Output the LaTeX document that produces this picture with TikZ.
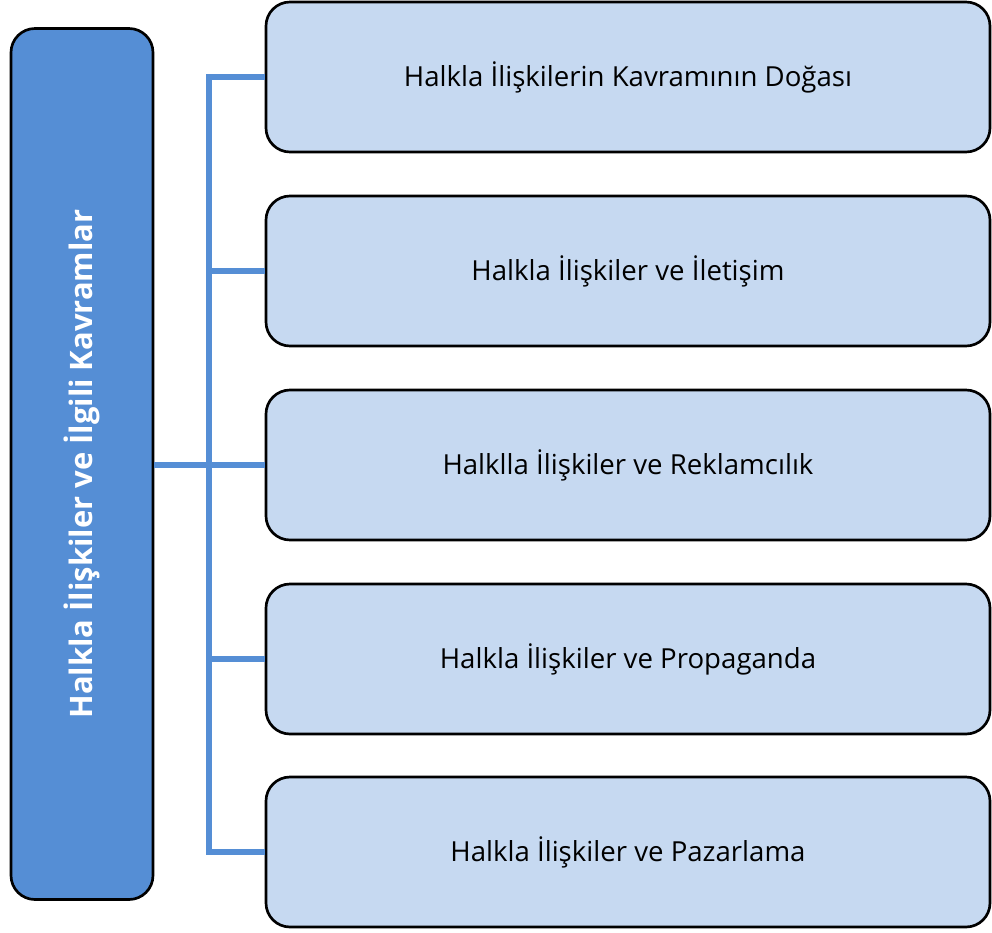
\documentclass[tikz,border=0pt]{standalone}
\usepackage{fontspec}
\setmainfont{Open Sans}
\definecolor{mainblue}{HTML}{558ED5}
\definecolor{lightblue}{HTML}{C6D9F1}
\begin{document}
\begin{tikzpicture}[x=0.75pt,y=-0.75pt,
  rootbox/.style={draw=black,line width=2pt,fill=mainblue,rounded corners=18pt,
    minimum width=142*0.75pt,minimum height=871*0.75pt,inner sep=0pt},
  itembox/.style={draw=black,line width=2pt,fill=lightblue,rounded corners=18pt,
    minimum width=724*0.75pt,minimum height=150*0.75pt,inner sep=0pt,
    font=\fontsize{20.7}{24}\selectfont},
  link/.style={draw=mainblue,line width=3.8pt}]
\useasboundingbox (0,0) rectangle (992,932);
\node[rootbox] (root) at (82,464) {};
\node[rotate=90,text=white,font=\fontsize{23.2}{27}\selectfont\bfseries] at (root.center) {Halkla İlişkiler ve İlgili Kavramlar};
\node[itembox] (b1) at (628,77) {Halkla İlişkilerin Kavramının Doğası};
\node[itembox] (b2) at (628,271) {Halkla İlişkiler ve İletişim};
\node[itembox] (b3) at (628,465) {Halklla İlişkiler ve Reklamcılık};
\node[itembox] (b4) at (628,659) {Halkla İlişkiler ve Propaganda};
\node[itembox] (b5) at (628,852) {Halkla İlişkiler ve Pazarlama};
\coordinate (trunk) at (209,0);
\draw[link] (root.east |- b3.west) -- (b3.west);
\draw[link] (trunk |- b1.west) -- (b1.west);
\draw[link] (trunk |- b2.west) -- (b2.west);
\draw[link] (trunk |- b4.west) -- (b4.west);
\draw[link] (trunk |- b5.west) -- (b5.west);
\draw[link,line cap=rect] (trunk |- b1.west) -- (trunk |- b5.west);
\end{tikzpicture}
\end{document}
